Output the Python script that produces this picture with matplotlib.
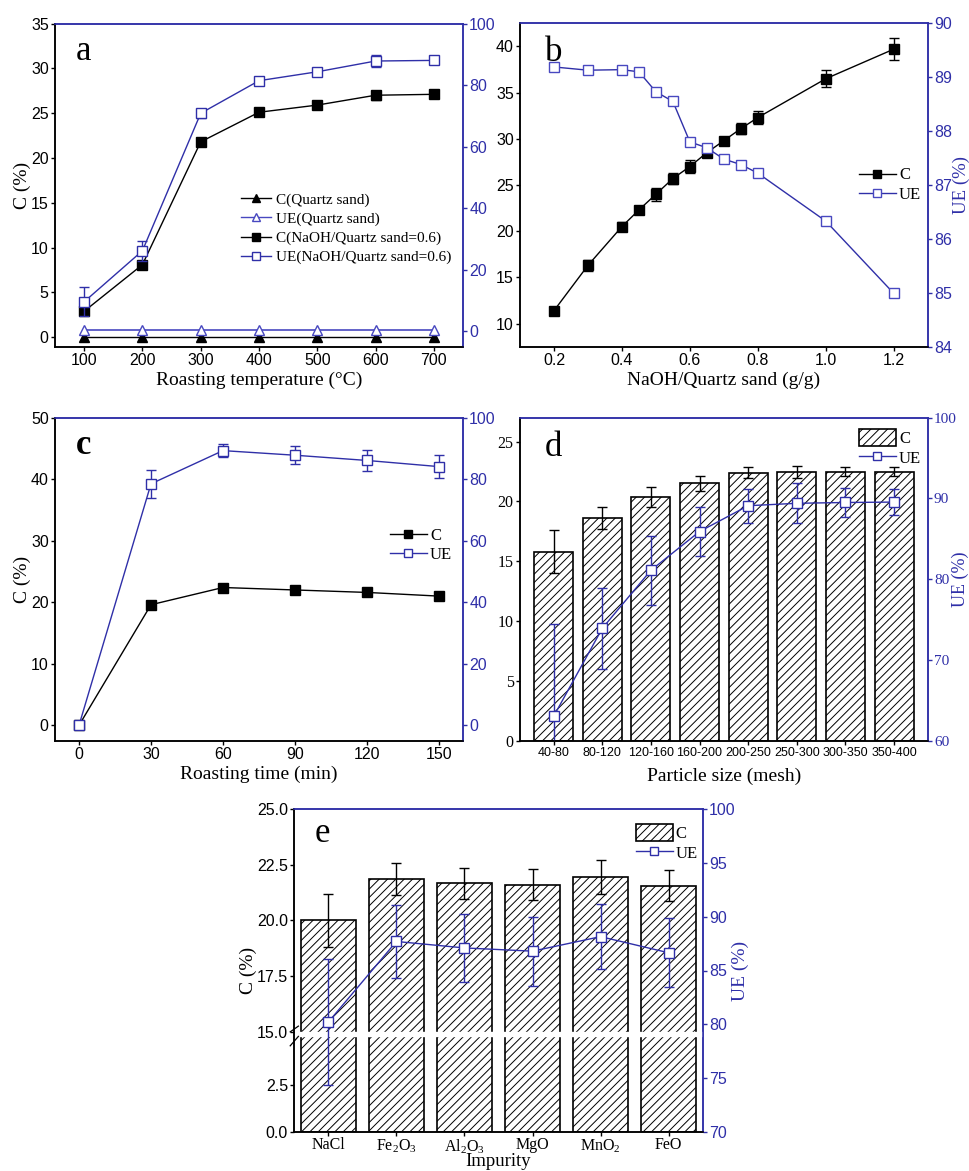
import numpy as np
import matplotlib
matplotlib.use("Agg")
import matplotlib.pyplot as plt
from matplotlib.lines import Line2D
from matplotlib.patches import Patch

plt.rcParams['font.family'] = ['Liberation Sans', 'DejaVu Sans']
plt.rcParams['mathtext.fontset'] = 'custom'
plt.rcParams['mathtext.rm'] = 'Liberation Serif'
plt.rcParams['mathtext.it'] = 'Liberation Serif:italic'
plt.rcParams['hatch.linewidth'] = 0.7
plt.rcParams['axes.linewidth'] = 1.1

# ---------------- data ----------------
# a
temp = [100, 200, 300, 400, 500, 600, 700]
a_c_quartz = [0, 0, 0, 0, 0, 0, 0]
a_ue_quartz = [0.4, 0.4, 0.4, 0.4, 0.4, 0.4, 0.4]
a_c_naoh = [2.9, 8.1, 21.8, 25.1, 25.9, 27.0, 27.1]
a_c_naoh_err = [0.3, 0.4, 0.2, 0.2, 0.2, 0.5, 0.3]
a_ue_naoh = [9.5, 26.1, 70.8, 81.4, 84.3, 87.8, 88.0]
a_ue_naoh_err = [4.7, 3.3, 1.5, 1.0, 0.8, 2.0, 1.0]
# b
ratio = [0.2, 0.3, 0.4, 0.45, 0.5, 0.55, 0.6, 0.65, 0.7, 0.75, 0.8, 1.0, 1.2]
b_c = [11.4, 16.3, 20.5, 22.3, 24.0, 25.7, 27.0, 28.5, 29.8, 31.1, 32.3, 36.5, 39.7]
b_c_err = [0.4, 0.6, 0.5, 0.3, 0.7, 0.6, 0.7, 0.3, 0.3, 0.6, 0.7, 0.9, 1.2]
b_ue = [89.19, 89.13, 89.14, 89.10, 88.73, 88.55, 87.80, 87.69, 87.48, 87.38, 87.22, 86.33, 84.99]
# c
rtime = [0, 30, 60, 90, 120, 150]
c_c = [0.0, 19.6, 22.4, 22.0, 21.6, 21.0]
c_c_err = [0.0, 0.6, 0.4, 0.6, 0.6, 0.6]
c_ue = [0.0, 78.5, 89.3, 87.8, 86.1, 84.1]
c_ue_err = [0.0, 4.5, 2.0, 3.0, 3.5, 3.8]
# d
sizes = ['40-80', '80-120', '120-160', '160-200', '200-250', '250-300', '300-350', '350-400']
d_c = [15.8, 18.6, 20.35, 21.5, 22.4, 22.45, 22.5, 22.5]
d_c_err = [1.8, 0.9, 0.85, 0.65, 0.45, 0.5, 0.4, 0.35]
d_ue = [63.0, 73.9, 81.1, 85.9, 89.1, 89.4, 89.5, 89.55]
d_ue_err = [11.4, 5.0, 4.3, 3.0, 2.1, 2.5, 1.8, 1.65]
# e
impurities = ['NaCl', r'Fe$_\mathrm{2}$O$_\mathrm{3}$', r'Al$_\mathrm{2}$O$_\mathrm{3}$', 'MgO',
              r'MnO$_\mathrm{2}$', 'FeO']
e_c = [20.0, 21.85, 21.67, 21.61, 21.94, 21.57]
e_c_err = [1.2, 0.72, 0.71, 0.69, 0.77, 0.69]
e_ue = [80.2, 87.7, 87.1, 86.8, 88.15, 86.65]
e_ue_err = [5.9, 3.4, 3.2, 3.2, 3.0, 3.2]

BLUE = '#2f2fa8'
LBLUE = '#4848c0'
SERIF = 'Liberation Serif'
TICK = 11.5

W, H = 969, 1171
fig = plt.figure(figsize=(W / 100, H / 100), dpi=100)


def make_axes(l, r, t, b):
    ax = fig.add_axes([l / W, 1 - b / H, (r - l) / W, (b - t) / H])
    ax2 = ax.twinx()
    for a in (ax, ax2):
        a.spines['top'].set_color(BLUE)
        a.spines['right'].set_color(BLUE)
        a.spines['left'].set_color('black')
        a.spines['bottom'].set_color('black')
    ax.tick_params(axis='both', direction='out', length=3, width=1, labelsize=TICK, pad=1.5)
    ax2.tick_params(axis='y', direction='out', length=3, width=1, labelsize=TICK,
                    colors=BLUE, pad=1.5)
    return ax, ax2


def serif_ticks(ax, axis='y', size=11.5):
    labels = ax.get_yticklabels() if axis == 'y' else ax.get_xticklabels()
    for lb in labels:
        lb.set_fontfamily(SERIF)
        lb.set_fontsize(size)


eb_kw = dict(capsize=3.5, elinewidth=1.0, capthick=1.0, markersize=7, lw=1.0)
LEG = {'family': SERIF, 'size': 12}

# ---------------- panel a ----------------
ax, ax2 = make_axes(55, 463, 23.5, 346.7)
ax.errorbar(temp, a_c_quartz, color='black', marker='^', markersize=7, lw=1.0)
ax.errorbar(temp, a_c_naoh, yerr=a_c_naoh_err, color='black', marker='s', **eb_kw)
ax2.plot(temp, a_ue_quartz, color=LBLUE, marker='^', markersize=7, mfc='white', mec=LBLUE, lw=1.2)
ax2.errorbar(temp, a_ue_naoh, yerr=a_ue_naoh_err, color=BLUE, marker='s', mfc='white',
             mec=BLUE, **eb_kw)
ax.set_xlim(50, 750)
ax.set_ylim(-1.05, 35)
ax2.set_ylim(-5.1, 100)
ax.set_xticks(temp)
ax.set_yticks([0, 5, 10, 15, 20, 25, 30, 35])
ax2.set_yticks([0, 20, 40, 60, 80, 100])
ax.set_ylabel('C (%)', fontfamily=SERIF, fontsize=14)
ax.yaxis.set_label_coords(-0.06, 0.5)
ax.set_xlabel('Roasting temperature (°C)', fontfamily=SERIF, fontsize=14, labelpad=3)
ax.text(0.05, 0.965, 'a', transform=ax.transAxes, fontfamily=SERIF, fontsize=25, va='top')
h = [Line2D([], [], color='black', marker='^', markersize=6, lw=1.0),
     Line2D([], [], color=LBLUE, marker='^', markersize=6, mfc='white', mec=LBLUE, lw=1.0),
     Line2D([], [], color='black', marker='s', markersize=6, lw=1.0),
     Line2D([], [], color=BLUE, marker='s', markersize=6, mfc='white', mec=BLUE, lw=1.0)]
lab = ['C(Quartz sand)', 'UE(Quartz sand)', 'C(NaOH/Quartz sand=0.6)', 'UE(NaOH/Quartz sand=0.6)']
ax2.legend(h, lab, loc='upper left', bbox_to_anchor=(0.44, 0.495), frameon=False,
           prop={'family': SERIF, 'size': 11}, handlelength=2.0, handletextpad=0.3,
           labelspacing=0.35, borderaxespad=0)

# ---------------- panel b ----------------
ax, ax2 = make_axes(520, 927.7, 23.3, 346.7)
ax.errorbar(ratio, b_c, yerr=b_c_err, color='black', marker='s', **eb_kw)
ax2.plot(ratio, b_ue, color=BLUE, marker='s', markersize=7, mfc='white', mec=LBLUE, lw=1.0)
ax.set_xlim(0.1, 1.3)
ax.set_ylim(7.5, 42.5)
ax2.set_ylim(84, 90)
ax.set_xticks([0.2, 0.4, 0.6, 0.8, 1.0, 1.2])
ax.set_xticklabels(['0.2', '0.4', '0.6', '0.8', '1.0', '1.2'])
ax.set_yticks([10, 15, 20, 25, 30, 35, 40])
ax2.set_yticks([84, 85, 86, 87, 88, 89, 90])
ax.set_xlabel('NaOH/Quartz sand (g/g)', fontfamily=SERIF, fontsize=14, labelpad=3)
ax2.set_ylabel('UE (%)', fontfamily=SERIF, fontsize=13.5, color=BLUE)
ax2.yaxis.set_label_coords(1.062, 0.5)
ax.text(0.06, 0.96, 'b', transform=ax.transAxes, fontfamily=SERIF, fontsize=25, va='top')
h = [Line2D([], [], color='black', marker='s', markersize=6, lw=1.0),
     Line2D([], [], color=BLUE, marker='s', markersize=6, mfc='white', mec=LBLUE, lw=1.0)]
ax2.legend(h, ['C', 'UE'], loc='upper left', bbox_to_anchor=(0.815, 0.575), frameon=False,
           prop=LEG, handlelength=2.2, handletextpad=0.2,
           labelspacing=0.2, borderaxespad=0)

# ---------------- panel c ----------------
ax, ax2 = make_axes(55, 463, 417.7, 740.7)
ax.errorbar(rtime, c_c, yerr=c_c_err, color='black', marker='s', **eb_kw)
ax2.errorbar(rtime, c_ue, yerr=c_ue_err, color=BLUE, marker='s', mfc='white', mec=BLUE, **eb_kw)
ax.set_xlim(-10, 160)
ax.set_ylim(-2.5, 50)
ax2.set_ylim(-5, 100)
ax.set_xticks(rtime)
ax.set_yticks([0, 10, 20, 30, 40, 50])
ax2.set_yticks([0, 20, 40, 60, 80, 100])
ax.set_ylabel('C (%)', fontfamily=SERIF, fontsize=14)
ax.yaxis.set_label_coords(-0.06, 0.5)
ax.set_xlabel('Roasting time (min)', fontfamily=SERIF, fontsize=14, labelpad=3)
ax.text(0.05, 0.965, 'c', transform=ax.transAxes, fontfamily=SERIF, fontsize=25,
        va='top', fontweight='bold')
h = [Line2D([], [], color='black', marker='s', markersize=6, lw=1.0),
     Line2D([], [], color=BLUE, marker='s', markersize=6, mfc='white', mec=BLUE, lw=1.0)]
ax2.legend(h, ['C', 'UE'], loc='upper left', bbox_to_anchor=(0.805, 0.68), frameon=False,
           prop=LEG, handlelength=2.2, handletextpad=0.2,
           labelspacing=0.2, borderaxespad=0)

# ---------------- panel d ----------------
ax, ax2 = make_axes(520, 927.7, 417.7, 740.7)
xd = np.arange(len(sizes))
ax.bar(xd, d_c, width=0.8, color='white', edgecolor='black', hatch='////', lw=1.2,
       yerr=d_c_err, capsize=3.5, error_kw=dict(elinewidth=1.0, capthick=1.0, ecolor='black'))
ax2.errorbar(xd, d_ue, yerr=d_ue_err, color=BLUE, marker='s', mfc='white', mec=BLUE, **eb_kw)
ax.set_xlim(-0.69, 7.69)
ax.set_ylim(0, 27)
ax2.set_ylim(60, 100)
ax.set_xticks(xd)
ax.set_xticklabels(sizes, fontsize=9)
ax.set_yticks([0, 5, 10, 15, 20, 25])
ax2.set_yticks([60, 70, 80, 90, 100])
serif_ticks(ax, 'y', 11.5)
serif_ticks(ax2, 'y', 11)
ax.set_xlabel('Particle size (mesh)', fontfamily=SERIF, fontsize=14, labelpad=6)
ax2.set_ylabel('UE (%)', fontfamily=SERIF, fontsize=13, color=BLUE)
ax2.yaxis.set_label_coords(1.06, 0.5)
ax.text(0.06, 0.96, 'd', transform=ax.transAxes, fontfamily=SERIF, fontsize=25, va='top')
h = [Patch(facecolor='white', edgecolor='black', hatch='////', lw=1.2),
     Line2D([], [], color=BLUE, marker='s', markersize=6, mfc='white', mec=BLUE, lw=1.0)]
ax2.legend(h, ['C', 'UE'], loc='upper left', bbox_to_anchor=(0.815, 0.985), frameon=False,
           prop=LEG, handlelength=2.2, handleheight=1.2,
           handletextpad=0.2, labelspacing=0.1, borderaxespad=0)

# ---------------- panel e ----------------
def fwd(y):
    y = np.asarray(y, dtype=float)
    return np.where(y <= 5.1, y * 56.0,
                    np.where(y < 15, 285.6 + (y - 5.1) * (14.4 / 9.9), 300.0 + (y - 15) * 66.7))


def inv(v):
    v = np.asarray(v, dtype=float)
    return np.where(v <= 285.6, v / 56.0,
                    np.where(v < 300.0, 5.1 + (v - 285.6) * (9.9 / 14.4), 15 + (v - 300.0) / 66.7))


ax, ax2 = make_axes(294.3, 702.7, 809.3, 1131.7)
ax.set_yscale('function', functions=(fwd, inv))
xe = np.arange(len(impurities))
ax.bar(xe, e_c, width=0.8, color='white', edgecolor='black', hatch='////', lw=1.2,
       yerr=e_c_err, capsize=3.5, error_kw=dict(elinewidth=1.0, capthick=1.0, ecolor='black'),
       zorder=2)
ax.axhspan(5.1, 15, xmin=0.003, xmax=1.0, color='white', zorder=3)
ax2.errorbar(xe, e_ue, yerr=e_ue_err, color=BLUE, marker='s', mfc='white', mec=BLUE, **eb_kw)
ax.set_xlim(-0.5, 5.5)
ax.set_ylim(0, 25)
ax2.set_ylim(70, 100)
ax.set_xticks(xe)
ax.set_xticklabels(impurities)
ax.tick_params(axis='x', pad=1)
serif_ticks(ax, 'x', 11.5)
ax.set_yticks([0, 2.5, 15, 17.5, 20, 22.5, 25])
ax.set_yticklabels(['0.0', '2.5', '15.0', '17.5', '20.0', '22.5', '25.0'])
ax.yaxis.set_minor_locator(matplotlib.ticker.NullLocator())
ax2.set_yticks([70, 75, 80, 85, 90, 95, 100])
# break marks on left spine
bt = matplotlib.transforms.blended_transform_factory(ax.transAxes, ax.transData)
ax.plot([-0.01, 0.01], [14.6, 15.25], transform=bt, color='black', lw=0.9,
        clip_on=False, zorder=4)
ax.plot([-0.01, 0.01], [4.6, 5.3], transform=bt, color='black', lw=0.9,
        clip_on=False, zorder=4)
ax.set_ylabel('C (%)', fontfamily=SERIF, fontsize=14)
ax.yaxis.set_label_coords(-0.092, 0.5)
ax.set_xlabel('Impurity', fontfamily=SERIF, fontsize=13.5, labelpad=-2)
ax2.set_ylabel('UE (%)', fontfamily=SERIF, fontsize=14, color=BLUE)
ax2.yaxis.set_label_coords(1.072, 0.5)
ax.text(0.05, 0.975, 'e', transform=ax.transAxes, fontfamily=SERIF, fontsize=25, va='top')
h = [Patch(facecolor='white', edgecolor='black', hatch='////', lw=1.2),
     Line2D([], [], color=BLUE, marker='s', markersize=6, mfc='white', mec=BLUE, lw=1.0)]
ax2.legend(h, ['C', 'UE'], loc='upper left', bbox_to_anchor=(0.82, 0.975), frameon=False,
           prop=LEG, handlelength=2.2, handleheight=1.2,
           handletextpad=0.2, labelspacing=0.1, borderaxespad=0)

fig.savefig('out.png', dpi=100)
